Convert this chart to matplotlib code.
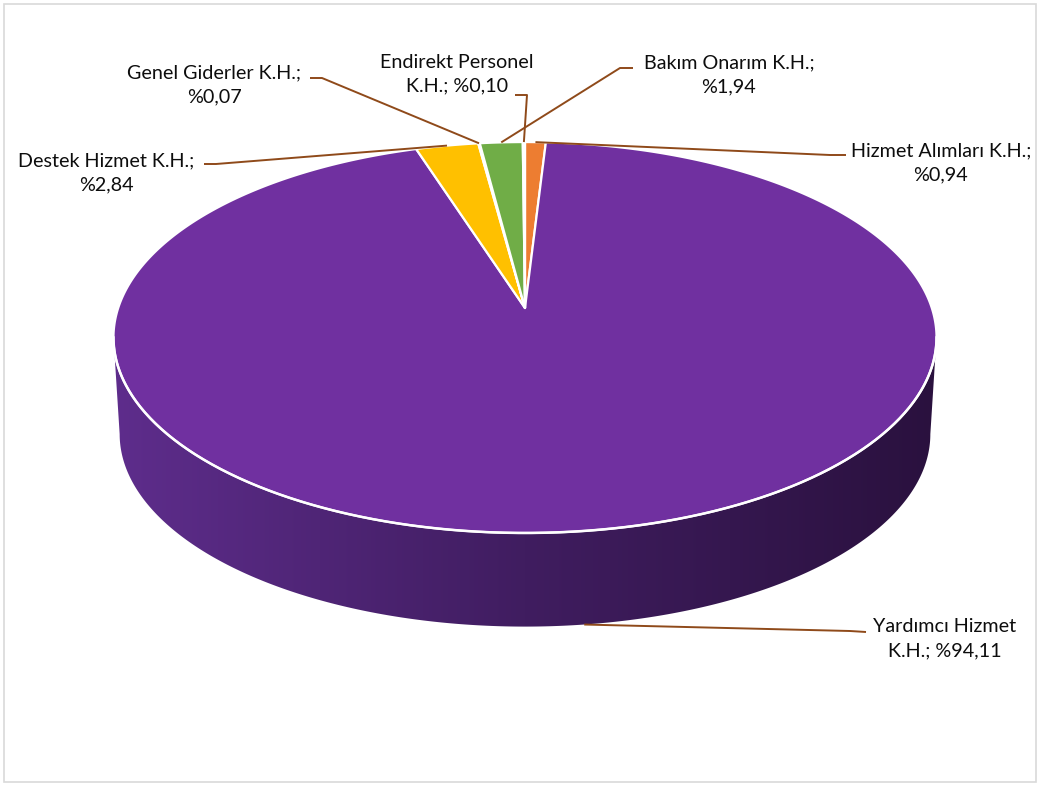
import numpy as np
import matplotlib
matplotlib.use("Agg")
import matplotlib.pyplot as plt
from matplotlib.patches import Polygon, Rectangle

# slices, clockwise from 12 o'clock
names = ["Hizmet Alımları K.H.", "Yardımcı Hizmet K.H.", "Destek Hizmet K.H.",
         "Genel Giderler K.H.", "Bakım Onarım K.H.", "Endirekt Personel K.H."]
values = [0.94, 94.11, 2.84, 0.07, 1.94, 0.10]
colors = ["#ed7d31", "#7030a0", "#ffc000", "#a5a5a5", "#70ad47", "#5b9bd5"]
wrap_in_name = [False, True, False, False, False, True]

# label layout (pixel coords): text centre, leader elbow, leader end
text_pos = [(941, 163), (945, 639), (106, 173), (214, 85), (729, 75), (457, 74)]
elbow = [(830, 155), (850, 631), (216, 164), (322, 78), (620, 68), (527, 95)]
line_end = [(846, 155), (866, 632), (204, 164), (310, 78), (633, 68), (515, 95)]

plt.rcParams['font.family'] = ['Lato', 'DejaVu Sans']

# perspective pie geometry
CX, CY = 525, 308
A, B, K = 406.8, 191, 0.151
DEPTH, SB = 97, 0.985


def top_pt(th):
    t = np.radians(th)
    u, v = np.sin(t), np.cos(t)
    w = 1 + K * v
    return CX + A * u / w, CY - B * v / w


def bot_pt(th):
    t = np.radians(th)
    u, v = np.sin(t), np.cos(t)
    w = 1 + K * v
    return CX + A * SB * u / w, CY + DEPTH - B * SB * v / w


fig = plt.figure(figsize=(10.39, 7.85), dpi=100)
ax = fig.add_axes([0, 0, 1, 1])
ax.set_xlim(0, 1039)
ax.set_ylim(785, 0)
ax.axis('off')

ax.add_patch(Rectangle((3.5, 3.5), 1032, 778, fill=False, ec="#d9d9d9", lw=1.2))

# side of the pie (front half only)
th_ext = np.degrees(np.arccos(-K))
ths = np.linspace(th_ext, 360 - th_ext, 300)
side = [top_pt(t) for t in ths] + [bot_pt(t) for t in ths[::-1]]
side_poly = Polygon(side, closed=True, fc="none", ec="none")
ax.add_patch(side_poly)
xs = np.linspace(100, 950, 400)
stops_x = [114, 525, 937]
stops_c = np.array([[0x5e, 0x2d, 0x8c], [0x40, 0x1d, 0x60], [0x2a, 0x11, 0x3e]]) / 255
grad = np.stack([np.interp(xs, stops_x, stops_c[:, i]) for i in range(3)], axis=-1)[None, :, :]
im = ax.imshow(grad, extent=(100, 950, 650, 320), aspect='auto', interpolation='bilinear')
im.set_clip_path(side_poly)
ax.set_xlim(0, 1039)
ax.set_ylim(785, 0)

# top slices
total = sum(values)
start = 0.0
mids = []
for val, col in zip(values, colors):
    span = val / total * 360
    arc = np.linspace(start, start + span, max(3, int(span * 2)))
    pts = [(CX, CY)] + [top_pt(t) for t in arc]
    ax.add_patch(Polygon(pts, closed=True, fc=col, ec="white", lw=1.6, joinstyle='round'))
    mids.append(start + span / 2)
    start += span

# white rim along the front edge
rim = np.array([top_pt(t) for t in ths])
ax.plot(rim[:, 0], rim[:, 1], color="white", lw=1.8)

# labels and leader lines
for i, (nm, val) in enumerate(zip(names, values)):
    pct = "%" + f"{val:.2f}".replace(".", ",")
    if wrap_in_name[i]:
        txt = nm.replace(" K.H.", "\nK.H.") + "; " + pct
    else:
        txt = nm + ";\n" + pct
    m = mids[i]
    if 90 < m < 270:
        ax0, ay0 = bot_pt(m)
    else:
        ax0, ay0 = top_pt(m)
    ex, ey = elbow[i]
    lx, ly = line_end[i]
    ax.plot([ax0, ex, lx], [ay0, ey, ly], color="#8f4a1a", lw=1.4, solid_capstyle='butt')
    ax.text(text_pos[i][0], text_pos[i][1], txt, ha='center', va='center',
            fontsize=14.2, color="#0d0d0d", linespacing=1.5)

fig.savefig("out.png", dpi=100)
